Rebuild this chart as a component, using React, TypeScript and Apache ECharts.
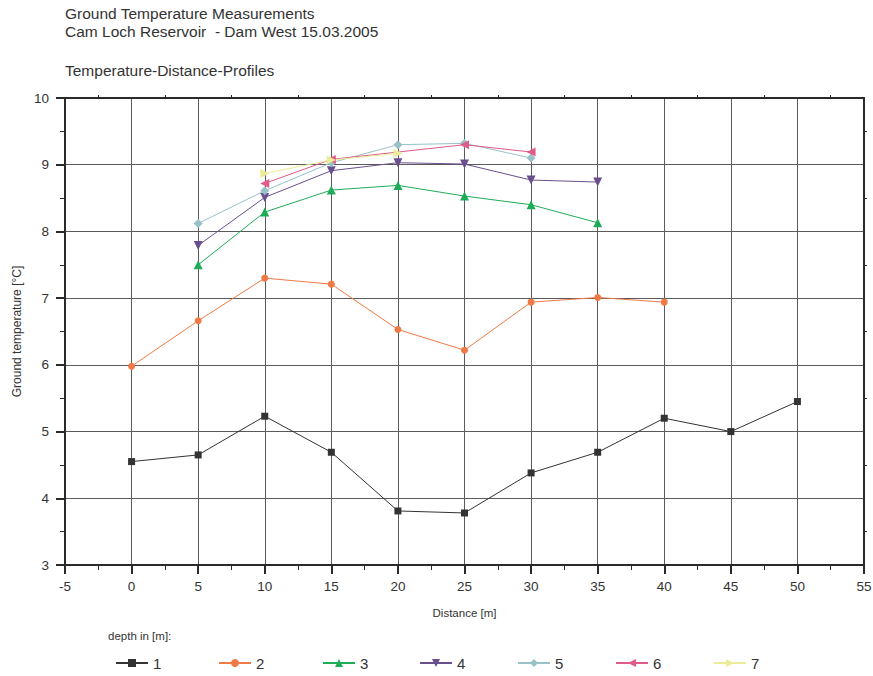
import React, { useEffect, useRef } from "react";
import * as echarts from "echarts";

// Distances [m] along the profile for each depth
const dist1 = [0, 5, 10, 15, 20, 25, 30, 35, 40, 45, 50];
const dist2 = [0, 5, 10, 15, 20, 25, 30, 35, 40];
const dist3 = [5, 10, 15, 20, 25, 30, 35];
const dist4 = [5, 10, 15, 20, 25, 30, 35];
const dist5 = [5, 10, 15, 20, 25, 30];
const dist6 = [10, 15, 25, 30];
const dist7 = [10, 15, 20];

// Ground temperatures [°C]
const temp1 = [4.55, 4.65, 5.23, 4.69, 3.81, 3.78, 4.38, 4.69, 5.2, 5.0, 5.45];
const temp2 = [5.98, 6.66, 7.3, 7.21, 6.53, 6.22, 6.94, 7.01, 6.94];
const temp3 = [7.5, 8.29, 8.62, 8.69, 8.53, 8.4, 8.13];
const temp4 = [7.79, 8.51, 8.91, 9.03, 9.01, 8.77, 8.74];
const temp5 = [8.12, 8.61, 9.03, 9.3, 9.32, 9.1];
const temp6 = [8.72, 9.08, 9.3, 9.19];
const temp7 = [8.87, 9.07, 9.17];

const depthNames = ["1", "2", "3", "4", "5", "6", "7"];
const xTicks = { min: -5, max: 55, interval: 5 };
const yTicks = { min: 3, max: 10, interval: 1 };

const seriesDefs = [
  { x: dist1, y: temp1, color: "#333333", symbol: "rect", size: 7, rotate: 0 },
  { x: dist2, y: temp2, color: "#f07a45", symbol: "circle", size: 7, rotate: 0 },
  { x: dist3, y: temp3, color: "#1eac58", symbol: "triangle", size: 9, rotate: 0 },
  { x: dist4, y: temp4, color: "#6a4f8e", symbol: "triangle", size: 9, rotate: 180 },
  { x: dist5, y: temp5, color: "#98c1c8", symbol: "diamond", size: 9, rotate: 0 },
  { x: dist6, y: temp6, color: "#e05a8a", symbol: "triangle", size: 9, rotate: 90 },
  { x: dist7, y: temp7, color: "#ecec98", symbol: "triangle", size: 9, rotate: -90 },
];

const legendLeft = [115, 218, 322, 419, 517, 615, 713];

export default function App() {
  const ref = useRef<HTMLDivElement>(null);

  useEffect(() => {
    if (!ref.current) return;
    const chart = echarts.init(ref.current, null, { renderer: "svg" });
    const font = "Liberation Sans, Arial, sans-serif";
    const axisColor = "#2a2a2a";
    const gridColor = "#5a5a5a";

    const option: any = {
      animation: false,
      backgroundColor: "#ffffff",
      textStyle: { fontFamily: font },
      grid: {
        left: 65,
        right: 9,
        top: 98,
        bottom: 111,
        containLabel: false,
        outerBoundsMode: "none",
      },
      graphic: [
        {
          type: "text",
          left: 65,
          top: 5,
          style: {
            text: "Ground Temperature Measurements",
            font: `15.5px ${font}`,
            fill: "#333",
          },
        },
        {
          type: "text",
          left: 65,
          top: 23,
          style: {
            text: "Cam Loch Reservoir  - Dam West 15.03.2005",
            font: `15.5px ${font}`,
            fill: "#333",
          },
        },
        {
          type: "text",
          left: 65,
          top: 62,
          style: {
            text: "Temperature-Distance-Profiles",
            font: `15.5px ${font}`,
            fill: "#333",
          },
        },
        {
          type: "text",
          left: 108,
          top: 630,
          style: {
            text: "depth in [m]:",
            font: `11.5px ${font}`,
            fill: "#333",
          },
        },
      ],
      legend: depthNames.map((n, i) => ({
        data: [n],
        left: legendLeft[i],
        top: 655,
        padding: 0,
        itemWidth: 32,
        itemHeight: 10,
        itemGap: 5,
        textStyle: { fontSize: 15, color: "#333", fontFamily: font, lineHeight: 16 },
        selectedMode: false,
      })),
      xAxis: [
        {
          type: "value",
          position: "bottom",
          ...xTicks,
          name: "Distance [m]",
          nameLocation: "middle",
          nameGap: 42,
          nameTextStyle: { fontSize: 11.5, color: "#333", fontFamily: font },
          axisLine: { show: true, onZero: false, lineStyle: { color: axisColor, width: 2 } },
          axisTick: { show: true, inside: false, length: 9, lineStyle: { color: axisColor, width: 2 } },
          minorTick: { show: true, splitNumber: 2, length: 5, lineStyle: { color: axisColor, width: 1 } },
          axisLabel: {
            fontSize: 13.5,
            color: "#333",
            margin: 14,
            fontFamily: font,
            showMaxLabel: true,
            showMinLabel: true,
          },
          splitLine: { show: true, lineStyle: { color: gridColor, width: 1 } },
        },
        {
          type: "value",
          position: "top",
          ...xTicks,
          axisLine: { show: true, onZero: false, lineStyle: { color: axisColor, width: 2 } },
          axisTick: { show: false },
          minorTick: { show: true, splitNumber: 2, length: 3, lineStyle: { color: axisColor, width: 1 } },
          axisLabel: { show: false },
          splitLine: { show: false },
        },
      ],
      yAxis: [
        {
          type: "value",
          position: "left",
          ...yTicks,
          name: "Ground temperature [°C]",
          nameLocation: "middle",
          nameGap: 42,
          nameTextStyle: { fontSize: 12, color: "#333", fontFamily: font },
          axisLine: { show: true, onZero: false, lineStyle: { color: axisColor, width: 2 } },
          axisTick: { show: true, inside: false, length: 9, lineStyle: { color: axisColor, width: 2 } },
          minorTick: { show: true, splitNumber: 2, length: 5, lineStyle: { color: axisColor, width: 1 } },
          axisLabel: { fontSize: 13.5, color: "#333", margin: 16, fontFamily: font },
          splitLine: { show: true, lineStyle: { color: gridColor, width: 1 } },
        },
        {
          type: "value",
          position: "right",
          ...yTicks,
          axisLine: { show: true, onZero: false, lineStyle: { color: axisColor, width: 2 } },
          axisTick: { show: false },
          minorTick: { show: true, splitNumber: 2, length: 3, lineStyle: { color: axisColor, width: 1 } },
          axisLabel: { show: false },
          splitLine: { show: false },
        },
      ],
      series: seriesDefs.map((s, i) => ({
        name: depthNames[i],
        type: "line",
        xAxisIndex: 0,
        yAxisIndex: 0,
        data: s.x.map((x, k) => [x, s.y[k]]),
        symbol: s.symbol,
        symbolSize: s.size,
        symbolRotate: s.rotate,
        showAllSymbol: true,
        lineStyle: { color: s.color, width: 1 },
        itemStyle: { color: s.color, borderColor: s.color, borderWidth: 0 },
        emphasis: { disabled: true },
      })),
    };

    chart.setOption(option);
    return () => chart.dispose();
  }, []);

  return (
    <div
      ref={ref}
      style={{ position: "fixed", left: 0, top: 0, width: 873, height: 676 }}
    />
  );
}
